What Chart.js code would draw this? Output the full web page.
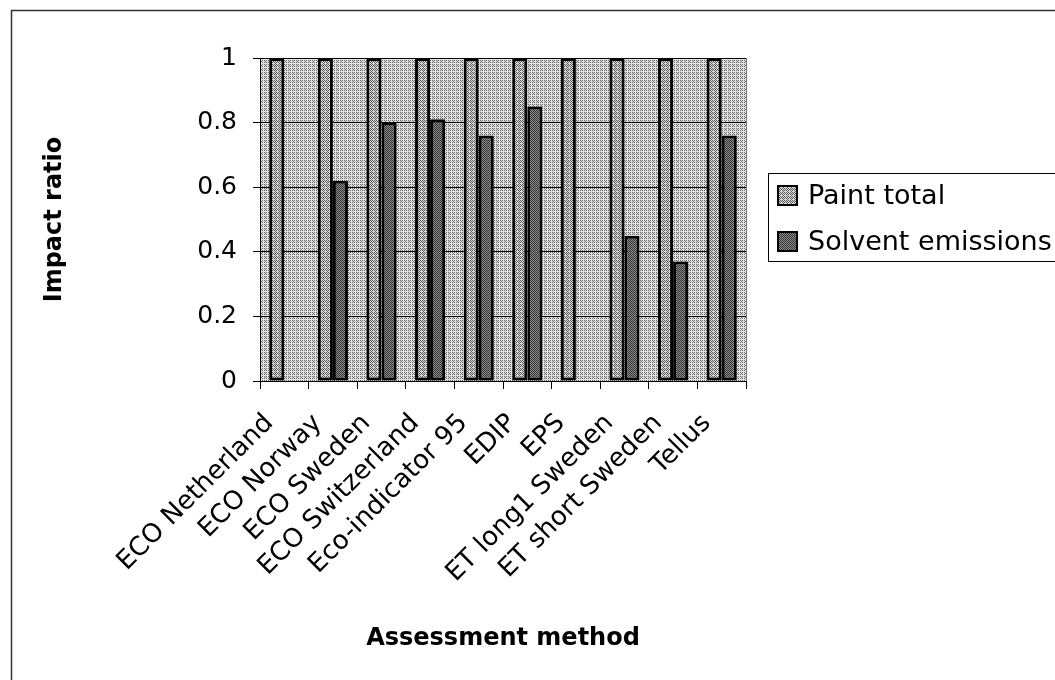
<!DOCTYPE html>
<html>
<head>
<meta charset="utf-8">
<script src="https://cdn.jsdelivr.net/npm/chart.js@4"></script>
<style>
  html, body { margin: 0; padding: 0; background: #fff; }
  #wrap { width: 1055px; height: 680px; position: relative; }
</style>
</head>
<body>
<div id="wrap"><canvas id="c" width="1055" height="680"></canvas></div>
<script>
const categories = ["ECO Netherland", "ECO Norway", "ECO Sweden", "ECO Switzerland", "Eco-indicator 95", "EDIP", "EPS", "ET long1 Sweden", "ET short Sweden", "Tellus"];
const paintTotal = [1, 1, 1, 1, 1, 1, 1, 1, 1, 1];
const solventEmissions = [0, 0.62, 0.80, 0.81, 0.76, 0.85, 0, 0.45, 0.37, 0.76];
const seriesNames = ["Paint total", "Solvent emissions"];
const yTicks = [0, 0.2, 0.4, 0.6, 0.8, 1];

const FONT = "'DejaVu Sans', 'Liberation Sans', Arial, sans-serif";
const bayer = [[0,8,2,10],[12,4,14,6],[3,11,1,9],[15,7,13,5]];
function makePattern(level, fg, bg) {
  const c = document.createElement('canvas');
  c.width = 4; c.height = 4;
  const g = c.getContext('2d');
  g.fillStyle = bg; g.fillRect(0, 0, 4, 4);
  g.fillStyle = fg;
  for (let y = 0; y < 4; y++) for (let x = 0; x < 4; x++) {
    if (bayer[y][x] < level) g.fillRect(x, y, 1, 1);
  }
  return document.createElement('canvas').getContext('2d').createPattern(c, 'repeat');
}
const plotBg = makePattern(5, '#6a6a6a', '#e2e2e2');
const paintFill = makePattern(7, '#5a5a5a', '#dcdcdc');
const solventFill = makePattern(8, '#333333', '#8c8c8c');

const bgPlugin = {
  id: 'bgPlugin',
  beforeDraw(chart) {
    const {ctx, chartArea: a} = chart;
    ctx.save();
    ctx.fillStyle = plotBg;
    ctx.fillRect(a.left, a.top, a.right - a.left, a.bottom - a.top);
    ctx.restore();
  },
  afterDraw(chart) {
    const {ctx, chartArea: a} = chart;
    ctx.save();
    // outer frame
    ctx.strokeStyle = '#333';
    ctx.lineWidth = 1.5;
    ctx.beginPath();
    ctx.moveTo(11.5, 680); ctx.lineTo(11.5, 10.5); ctx.lineTo(1055, 10.5);
    ctx.stroke();
    // right plot border
    ctx.strokeStyle = '#777';
    ctx.lineWidth = 1;
    ctx.beginPath();
    ctx.moveTo(Math.round(a.right) + 0.5, a.top); ctx.lineTo(Math.round(a.right) + 0.5, a.bottom);
    ctx.stroke();
    // legend
    const lx = 768, ly = 173, lbot = 261;
    ctx.strokeStyle = '#000';
    ctx.lineWidth = 1;
    ctx.strokeRect(lx + 0.5, ly + 0.5, 1055 - lx + 5, lbot - ly);
    const fills = [paintFill, solventFill];
    const ys = [196, 242];
    ctx.font = '27px ' + FONT;
    ctx.textBaseline = 'middle';
    ctx.textAlign = 'left';
    for (let i = 0; i < seriesNames.length; i++) {
      ctx.fillStyle = fills[i];
      ctx.fillRect(778, ys[i] - 10, 19, 19);
      ctx.strokeStyle = '#000';
      ctx.lineWidth = 2;
      ctx.strokeRect(778, ys[i] - 10, 19, 19);
      ctx.fillStyle = '#000';
      ctx.fillText(seriesNames[i], 808, ys[i] + 1);
    }
    ctx.restore();
  }
};

new Chart(document.getElementById('c'), {
  type: 'bar',
  data: {
    labels: categories,
    datasets: [
      { label: seriesNames[0], data: paintTotal, backgroundColor: paintFill, borderColor: '#000', borderWidth: 3, borderSkipped: false },
      { label: seriesNames[1], data: solventEmissions, backgroundColor: solventFill, borderColor: '#000', borderWidth: 3, borderSkipped: false }
    ]
  },
  plugins: [bgPlugin],
  options: {
    responsive: false,
    animation: false,
    devicePixelRatio: 1,
    layout: { padding: { top: 58, right: 309, bottom: 0, left: 0 } },
    datasets: { bar: { categoryPercentage: 0.62, barPercentage: 1.0 } },
    plugins: { legend: { display: false }, tooltip: { enabled: false } },
    scales: {
      x: {
        afterFit(s) { s.height = 299; },
        grid: { drawOnChartArea: false, offset: true, tickLength: 8, tickColor: '#000', lineWidth: 1 },
        border: { display: true, color: '#000', width: 1 },
        ticks: { autoSkip: false, maxRotation: 45, minRotation: 45, color: '#000', font: { family: FONT, size: 26 }, padding: 19, labelOffset: -15 },
        title: { display: true, text: 'Assessment method', color: '#000', font: { family: FONT, size: 24, weight: 'bold' }, padding: { top: 0, bottom: 27 } }
      },
      y: {
        min: 0, max: 1,
        afterFit(s) { s.width = 260; },
        afterBuildTicks(s) { s.ticks = yTicks.map(v => ({ value: v })); },
        grid: { color: '#000', lineWidth: 1, tickLength: 7, tickColor: '#000' },
        border: { display: true, color: '#000', width: 1 },
        ticks: { color: '#000', font: { family: FONT, size: 25 }, padding: 16, callback: v => String(v) },
        title: { display: true, text: 'Impact ratio', color: '#000', font: { family: FONT, size: 24, weight: 'bold' }, padding: { top: 40, bottom: 0 } }
      }
    }
  }
});
</script>
</body>
</html>
